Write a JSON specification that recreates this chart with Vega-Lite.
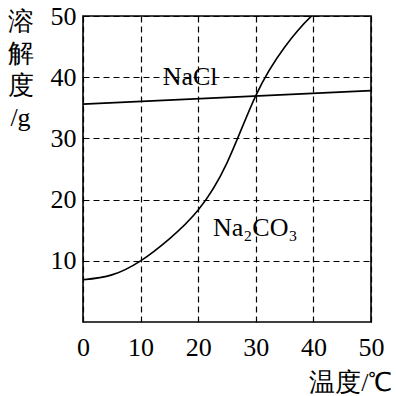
{
  "$schema": "https://vega.github.io/schema/vega-lite/v6.json",
  "width": 288,
  "height": 306,
  "autosize": {"type": "none"},
  "padding": {"left": 83, "top": 16, "right": 25, "bottom": 74},
  "background": "white",
  "config": {
    "view": {"stroke": "black", "strokeWidth": 1.6},
    "font": "'Liberation Serif', serif",
    "axis": {"labelFont": "'Liberation Serif', serif", "labelFlush": false, "labelFontSize": 26}
  },
  "datasets": {
    "curves": [
      {"series": "NaCl", "t": 0, "s": 35.6},
      {"series": "NaCl", "t": 50, "s": 37.8},
      {"series": "Na2CO3", "t": 0, "s": 6.9},
      {"series": "Na2CO3", "t": 5, "s": 7.7},
      {"series": "Na2CO3", "t": 10, "s": 10.0},
      {"series": "Na2CO3", "t": 15, "s": 13.6},
      {"series": "Na2CO3", "t": 20, "s": 18.3},
      {"series": "Na2CO3", "t": 25, "s": 26},
      {"series": "Na2CO3", "t": 30, "s": 37},
      {"series": "Na2CO3", "t": 35, "s": 44.9},
      {"series": "Na2CO3", "t": 40, "s": 50.3},
      {"series": "Na2CO3", "t": 45, "s": 54}
    ],
    "labels": [
      {"label": "NaCl", "t": 18.6, "s": 40},
      {"label": "Na₂CO₃", "t": 29.9, "s": 15.4}
    ]
  },
  "layer": [
    {
      "data": {"name": "curves"},
      "mark": {"type": "line", "color": "black", "strokeWidth": 1.6, "interpolate": "natural", "clip": true},
      "encoding": {
        "x": {
          "field": "t", "type": "quantitative",
          "scale": {"domain": [0, 50], "nice": false},
          "axis": {
            "values": [0, 10, 20, 30, 40, 50],
            "grid": true, "gridColor": "black", "gridDash": [6, 4], "gridWidth": 1.2, "gridOpacity": 1,
            "domain": false, "ticks": false, "labelFlush": false,
            "labelFont": "'Liberation Serif', serif", "labelFontSize": 26, "labelColor": "black", "labelPadding": 12,
            "title": "温度/℃", "titleFont": "'Liberation Serif', serif", "titleFontSize": 26,
            "titleFontWeight": "normal", "titleColor": "black",
            "titleAlign": "right", "titleAnchor": null, "titleX": 309, "titleY": 68, "titleBaseline": "alphabetic"
          }
        },
        "y": {
          "field": "s", "type": "quantitative",
          "scale": {"domain": [0, 50], "nice": false},
          "axis": {
            "values": [10, 20, 30, 40, 50],
            "grid": true, "gridColor": "black", "gridDash": [6, 4], "gridWidth": 1.2, "gridOpacity": 1,
            "domain": false, "ticks": false, "labelFlush": false,
            "labelFont": "'Liberation Serif', serif", "labelFontSize": 26, "labelColor": "black", "labelPadding": 7,
            "title": ["溶", "解", "度", "/g"], "titleFont": "'Liberation Serif', serif", "titleFontSize": 26,
            "titleFontWeight": "normal", "titleColor": "black", "titleAngle": 0,
            "titleAlign": "center", "titleBaseline": "top", "titleLineHeight": 32,
            "titleX": -63, "titleY": -8, "titleAnchor": null
          }
        },
        "detail": {"field": "series"}
      }
    },
    {
      "data": {"name": "labels"},
      "mark": {"type": "text", "font": "Liberation Serif", "fontSize": 26, "color": "black", "baseline": "middle", "align": "center"},
      "encoding": {
        "x": {"field": "t", "type": "quantitative"},
        "y": {"field": "s", "type": "quantitative"},
        "text": {"field": "label"}
      }
    }
  ]
}
